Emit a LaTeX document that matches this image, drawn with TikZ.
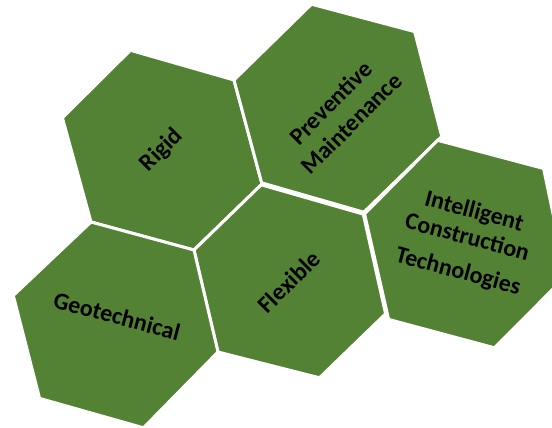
\documentclass[tikz,border=0pt]{standalone}
\usepackage{fontspec}
\setmainfont{Carlito}
\usepackage{tikz}
\definecolor{hexgreen}{HTML}{548235}

\begin{document}
\begin{tikzpicture}[x=1pt,y=-1pt,
        hexa/.style={fill=hexgreen,draw=white,line width=3pt,line join=miter},
        hlabel/.style={align=center,inner sep=0pt,text=black,font=\fontsize{24}{29}\selectfont\bfseries}
    ]
    \clip (0,0) rectangle (552,428);

    %--- shared corners ---
    \coordinate (j1) at (234,80);
    \coordinate (j2) at (262,184);
    \coordinate (j3) at (194,250);
    \coordinate (j4) at (91,222);
    \coordinate (j5) at (363,213);
    \coordinate (j6) at (218,352);

    %--- hexagons ---
    \draw[hexa] (130.4,50.3) -- (j1) -- (j2) -- (j3) -- (j4) -- (62.4,117.8) -- cycle;
    \draw[hexa] (311.5,4.2) -- (414.6,31.6) -- (441.8,136.4) -- (j5) -- (j2) -- (j1) -- cycle;
    \draw[hexa] (j2) -- (j5) -- (385.6,313.8) -- (319.5,377.8) -- (j6) -- (j3) -- cycle;
    \draw[hexa] (j4) -- (j3) -- (j6) -- (143.5,427.8) -- (39.6,398.4) -- (13.3,295.5) -- cycle;
    \draw[hexa] (437.6,140.3) -- (543.6,168.5) -- (566,276) -- (494.5,347.8) -- (388.6,319.4) -- (364.6,214) -- cycle;
    \draw[white,line width=5pt] (j2) -- (j5);

    %--- labels ---
    \node[hlabel,rotate=45] (rigid) at (162,150) {Rigid};
    \node[hlabel,rotate=45] (prev) at (341,113) {Preventive\\Maintenance};
    \node[hlabel,rotate=45] (flex) at (289,282) {Flexible};
    \node[hlabel,rotate=-15] (geo) at (117,316) {Geotechnical};
    \node[hlabel,rotate=-15,font=\fontsize{24}{27}\selectfont\bfseries] (ict) at (466,242) {Intelligent\\Construction\\[8pt]Technologies};
\end{tikzpicture}
\end{document}
